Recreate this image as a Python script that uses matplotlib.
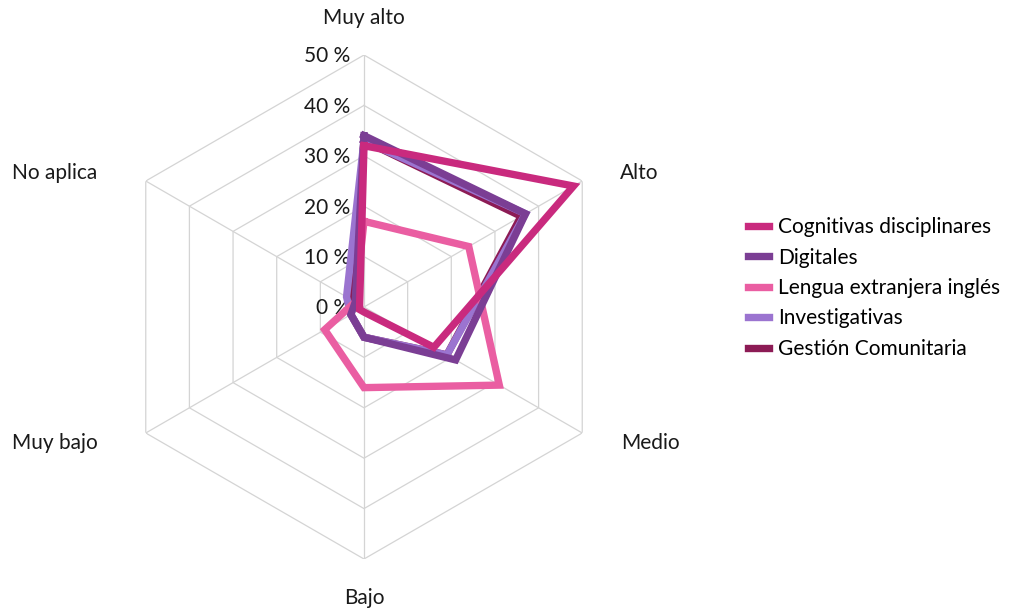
import numpy as np
import matplotlib.pyplot as plt

plt.rcParams['font.family'] = ['Lato', 'DejaVu Sans']

# Data (percent of respondents per level)
categories = ['Muy alto', 'Alto', 'Medio', 'Bajo', 'Muy bajo', 'No aplica']
series_names = ['Cognitivas disciplinares', 'Digitales', 'Lengua extranjera inglés',
                'Investigativas', 'Gestión Comunitaria']
cognitivas = [32, 48, 16, 1, 1, 1]
digitales = [34, 37, 21, 6, 3, 2]
lengua = [17, 24, 31, 16, 9, 2]
investigativas = [33, 37, 19, 6, 3, 4]
gestion = [33, 36, 19, 6, 3, 3]
r_ticks = [0, 10, 20, 30, 40, 50]

series_values = [cognitivas, digitales, lengua, investigativas, gestion]
colors = ['#C92A7E', '#7B3E94', '#EA5EA2', '#9B74D0', '#8C1B55']

W, H = 1024, 611
fig = plt.figure(figsize=(W / 100, H / 100), dpi=100)

# polar axes centred at (364, 307) px, radius 252 px
cx, cy, rad = 364, 307, 252
ax = fig.add_axes([(cx - rad) / W, (H - cy - rad) / H, 2 * rad / W, 2 * rad / H],
                  projection='polar')
ax.set_theta_zero_location('N')
ax.set_theta_direction(-1)
ax.set_ylim(0, r_ticks[-1])
ax.grid(False)
ax.spines['polar'].set_visible(False)
ax.set_xticks([])
ax.set_yticks([])
ax.patch.set_alpha(0)

n = len(categories)
angles = np.linspace(0, 2 * np.pi, n, endpoint=False)
angles_closed = np.append(angles, angles[0])

# hexagonal grid
grid_col = '#D4D4D4'
for t in r_ticks[1:]:
    ax.plot(angles_closed, [t] * (n + 1), color=grid_col, lw=0.9, zorder=1)
for a in angles:
    ax.plot([a, a], [0, r_ticks[-1]], color=grid_col, lw=0.9, zorder=1)

# radial tick labels
for t in r_ticks:
    ax.annotate(f'{t} %', xy=(0, t), xytext=(-10, -1), textcoords='offset points',
                ha='right', va='center', fontsize=15, color='#1a1a1a')

# series, first one drawn on top
lines = []
for i in range(len(series_values) - 1, -1, -1):
    vals = series_values[i]
    ln, = ax.plot(angles_closed, vals + vals[:1], color=colors[i], lw=5.3,
                  solid_joinstyle='miter', zorder=10 - i, label=series_names[i])
    lines.insert(0, ln)

# category labels
label_pos = {
    'Muy alto': (364, 18, 'center'),
    'Alto': (620, 173, 'left'),
    'Medio': (621, 443, 'left'),
    'Bajo': (364, 598, 'center'),
    'Muy bajo': (12, 443, 'left'),
    'No aplica': (12, 173, 'left'),
}
for c in categories:
    x, y, ha = label_pos[c]
    fig.text(x / W, 1 - y / H, c, ha=ha, va='center', fontsize=15, color='#1a1a1a')

fig.legend(lines, series_names, loc='center left',
           bbox_to_anchor=(729 / W, 1 - 288 / H), frameon=False, fontsize=15,
           handlelength=1.0, handletextpad=0.45, labelspacing=0.5)

fig.savefig('out.png', dpi=100)
